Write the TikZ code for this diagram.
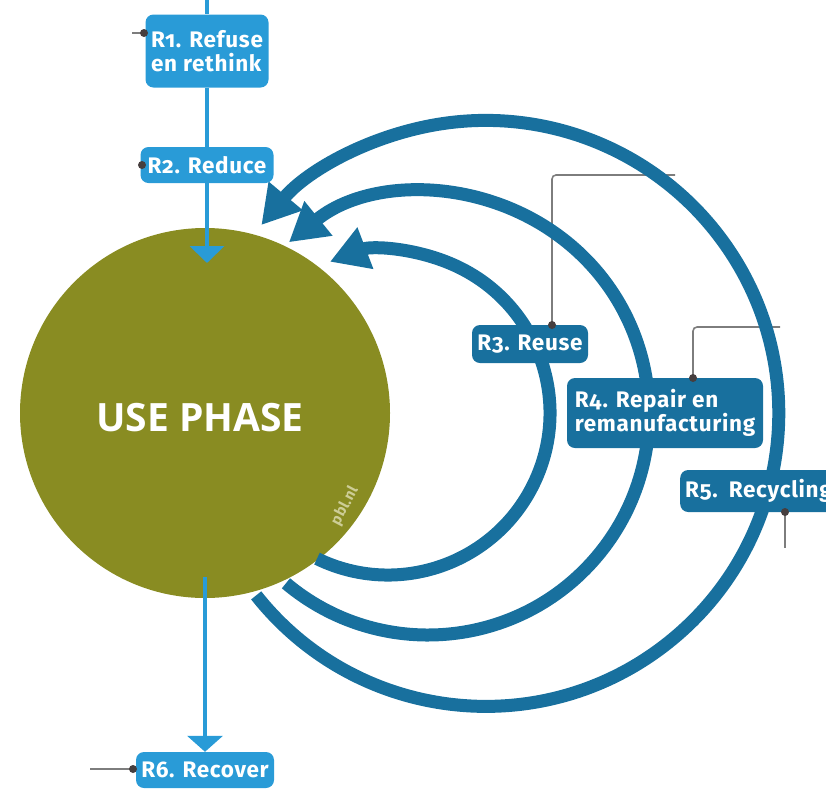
\documentclass[tikz,border=0pt]{standalone}
\usepackage{fontspec}
\setmainfont{Fira Sans}[Numbers=OldStyle, LetterSpace=3]
\newfontfamily\phasefont{Open Sans}
\usetikzlibrary{arrows.meta}

\definecolor{pblolive}{RGB}{137,140,34}
\definecolor{pbldark}{RGB}{24,112,158}
\definecolor{pbllight}{RGB}{41,155,215}
\definecolor{leadgray}{RGB}{125,125,125}
\definecolor{dotgray}{RGB}{70,62,62}
\definecolor{pbltext}{RGB}{205,205,150}

\begin{document}
\begin{tikzpicture}[x=1pt,y=-1pt,
    lightbox/.style={fill=pbllight, text=white, rounded corners=8pt, inner xsep=5pt, inner ysep=3pt,
      font=\bfseries\fontsize{22.5}{24}\selectfont, align=left},
    darkbox/.style={lightbox, fill=pbldark},
    loop/.style={pbldark, line width=13pt, -{Triangle[length=38pt,width=42pt]}},
    flow/.style={pbllight, line width=4pt},
    leader/.style={leadgray, line width=1.6pt, rounded corners=4pt},
    dot/.style={circle, fill=dotgray, inner sep=0pt, minimum size=8pt}]
  \useasboundingbox (0,0) rectangle (826,793);

  % grey leader lines behind the loops
  \coordinate (r3dot) at (552,325);
  \coordinate (r4dot) at (693,378);
  \coordinate (r5dot) at (785,512);
  \draw [leader] (r3dot) |- (675,175);
  \draw [leader] (r4dot) |- (780,327);
  \draw [leader] (r5dot) -- (785,548);

  \node [circle, fill=pblolive, minimum size=370pt, inner sep=0pt] (use) at (205,413) {};
  \node [text=white, font=\phasefont\bfseries\fontsize{39}{42}\selectfont] (phase) at (200,418) {USE PHASE};
  \node [rotate=62, text=pbltext, font=\bfseries\fontsize{15}{15}\selectfont] (pbl) at (345,506) {pbl.nl};

  % the three loops back to the use phase
  \draw [loop] (388,413) ++(116:162) arc[start angle=116, end angle=-111, radius=162];
  \draw [loop] (428,414) ++(130:221) arc[start angle=130, end angle=-129, radius=221];
  \draw [loop] (485,414) ++(141.6:292) arc[start angle=141.6, end angle=-140, radius=293];

  \node [lightbox, minimum width=123pt, minimum height=73pt] (r1) at (207,51) {R1. Refuse\\en rethink};
  \node [lightbox, minimum width=133pt, minimum height=36pt] (r2) at (207,165) {R2. Reduce};
  \node [lightbox, minimum width=138pt, minimum height=36pt] (r6) at (205,770) {R6. Recover};
  \node [darkbox, minimum width=116pt, minimum height=38pt] (r3) at (530,344) {R3. Reuse};
  \node [darkbox, minimum width=196pt, minimum height=70pt] (r4) at (665,413) {R4. Repair en\\remanufacturing};
  \node [darkbox, anchor=west, text width=150pt, minimum height=42pt] (r5) at (680,491) {R5. Recycling};

  % vertical flow
  \coordinate (topend) at (207,0);
  \coordinate (usetop) at (207,263);
  \coordinate (usebot) at (205,577);
  \draw [flow] (topend) -- (r1);
  \draw [flow] (r1) -- (r2);
  \draw [flow, -{Triangle[length=17pt,width=34pt]}] (r2) -- (usetop);
  \draw [flow, -{Triangle[length=16pt,width=35pt]}] (usebot) -- (r6);

  \draw [leader] (132,33) -- (144,33);
  \draw [leader] (90,769) -- (133,769);
  \node [dot] (r1dot) at (144,33) {};
  \node [dot] (r2dot) at (142,165) {};
  \node [dot] (r6dot) at (133,769) {};
  \node [dot] at (r3dot) {};
  \node [dot] at (r4dot) {};
  \node [dot] at (r5dot) {};
\end{tikzpicture}
\end{document}
